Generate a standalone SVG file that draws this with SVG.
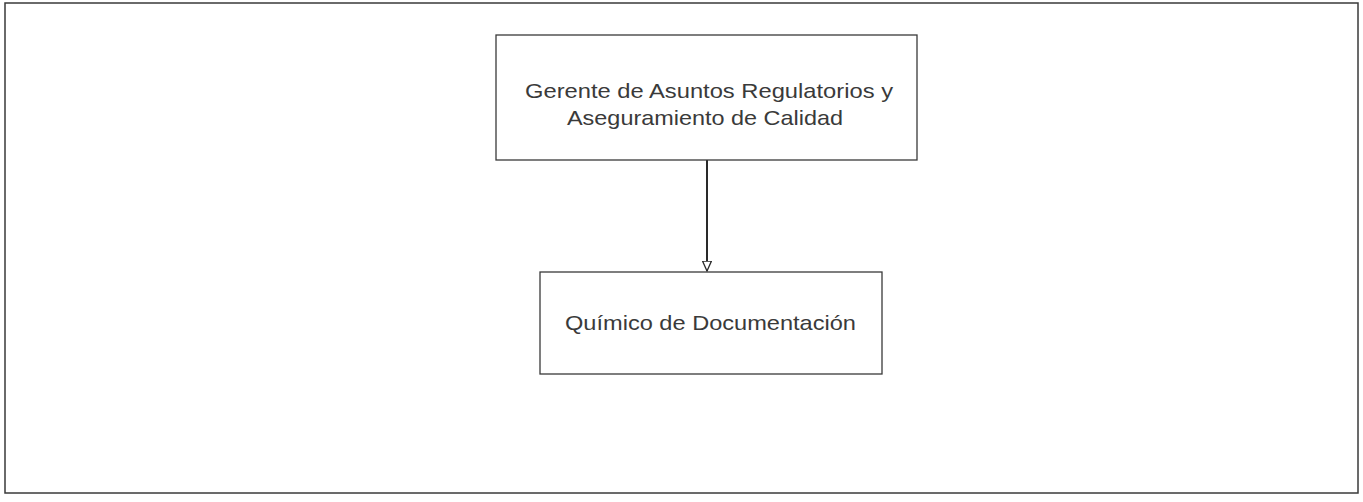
<svg xmlns="http://www.w3.org/2000/svg" width="1363" height="502" viewBox="0 0 1363 502">
<style>
.box{fill:#fff;stroke:#3a3a3a;stroke-width:1.3}
.frame{fill:none;stroke:#3a3a3a;stroke-width:1.5}
.lbl{font-family:"Liberation Sans",Arial,sans-serif;font-size:21px;fill:#3a3a3a}
.conn{stroke:#2a2a2a;stroke-width:2;fill:none}
</style>
<defs>
<marker id="arr" viewBox="0 0 10 10" refX="10" refY="5" markerWidth="11" markerHeight="10" markerUnits="userSpaceOnUse" orient="auto">
<path d="M0,0.5 L10,5 L0,9.5 z" fill="#fff" stroke="#2a2a2a" stroke-width="1.3"/>
</marker>
</defs>
<rect class="frame" x="5" y="3" width="1353" height="490"/>
<g id="connectors">
<line class="conn" x1="707" y1="160" x2="707" y2="271" marker-end="url(#arr)"/>
</g>
<g id="node-gerente">
<rect class="box" x="496" y="35" width="421" height="125"/>
<text class="lbl" x="525" y="98" textLength="368" lengthAdjust="spacingAndGlyphs">Gerente de Asuntos Regulatorios y</text>
<text class="lbl" x="567" y="125" textLength="276" lengthAdjust="spacingAndGlyphs">Aseguramiento de Calidad</text>
</g>
<g id="node-quimico">
<rect class="box" x="540" y="272" width="342" height="102"/>
<text class="lbl" x="565" y="330" textLength="291" lengthAdjust="spacingAndGlyphs">Químico de Documentación</text>
</g>
</svg>
